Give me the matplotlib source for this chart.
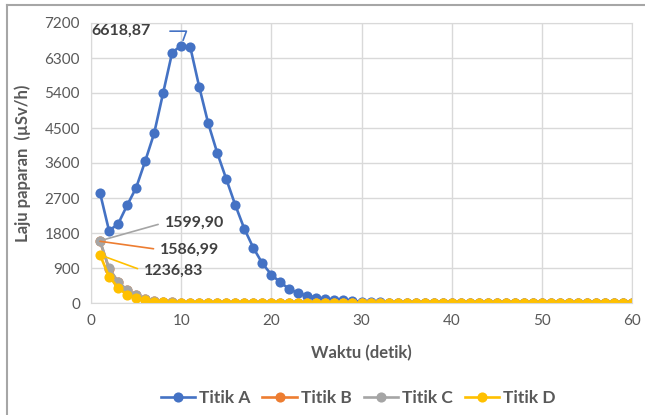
import matplotlib
matplotlib.use("Agg")
import matplotlib.pyplot as plt
from matplotlib.lines import Line2D

plt.rcParams['font.family'] = ['Lato', 'DejaVu Sans']

# waktu dalam detik, 1..60
waktu = list(range(1, 61))

titik_a = [2830, 1860, 2030, 2510, 2960, 3640, 4360, 5400, 6440, 6618.87,
           6590, 5560, 4620, 3860, 3190, 2520, 1910, 1420, 1020, 730,
           530, 360, 250, 190, 140, 110, 85, 65, 50, 35,
           25, 18, 12, 8, 5, 3, 2, 1, 1, 0,
           0, 0, 0, 0, 0, 0, 0, 0, 0, 0,
           0, 0, 0, 0, 0, 0, 0, 0, 0, 0]
titik_b = [1586.99, 880, 540, 325, 195, 105, 55, 28, 14, 7,
           3, 2, 1, 0, 0, 0, 0, 0, 0, 0,
           0, 0, 0, 0, 0, 0, 0, 0, 0, 0,
           0, 0, 0, 0, 0, 0, 0, 0, 0, 0,
           0, 0, 0, 0, 0, 0, 0, 0, 0, 0,
           0, 0, 0, 0, 0, 0, 0, 0, 0, 0]
titik_c = [1599.90, 895, 550, 335, 200, 110, 60, 30, 15, 8,
           4, 2, 1, 0, 0, 0, 0, 0, 0, 0,
           0, 0, 0, 0, 0, 0, 0, 0, 0, 0,
           0, 0, 0, 0, 0, 0, 0, 0, 0, 0,
           0, 0, 0, 0, 0, 0, 0, 0, 0, 0,
           0, 0, 0, 0, 0, 0, 0, 0, 0, 0]
titik_d = [1236.83, 680, 395, 206, 137, 77, 35, 15, 8, 4,
           2, 1, 0, 0, 0, 0, 0, 0, 0, 0,
           0, 0, 0, 0, 0, 0, 0, 0, 0, 0,
           0, 0, 0, 0, 0, 0, 0, 0, 0, 0,
           0, 0, 0, 0, 0, 0, 0, 0, 0, 0,
           0, 0, 0, 0, 0, 0, 0, 0, 0, 0]

nama = ['Titik A', 'Titik B', 'Titik C', 'Titik D']
warna = ['#4472C4', '#ED7D31', '#A5A5A5', '#FFC000']
teks = '#595959'

fig = plt.figure(figsize=(6.45, 4.15), dpi=100)
ax = fig.add_axes([91 / 645, 1 - 303 / 415, 541 / 645, 280 / 415])

for seri, nm, c in zip([titik_a, titik_b, titik_c, titik_d], nama, warna):
    ax.plot(waktu, seri, color=c, lw=1.9, marker='o', ms=7.3,
            markeredgewidth=0, label=nm)

ax.set_xlim(0, 60)
ax.set_ylim(0, 7200)
ax.set_xticks(range(0, 61, 10))
ax.set_yticks(range(0, 7201, 900))
ax.grid(True, color='#d9d9d9', lw=1)
ax.set_axisbelow(True)
for s in ax.spines.values():
    s.set_color('#d9d9d9')
ax.tick_params(length=0, labelsize=11, labelcolor=teks, pad=8)

ax.set_xlabel('Waktu (detik)', fontsize=12, fontweight='bold', color=teks,
              labelpad=12)
ax.set_ylabel('Laju paparan  (µSv/h)', fontsize=12, fontweight='bold',
              color=teks, labelpad=10)

# label nilai puncak dan nilai awal
ax.annotate(f'{titik_a[9]:.2f}'.replace('.', ','), xy=(waktu[9], titik_a[9]),
            xytext=(6.6, 6990), ha='right', va='center', fontsize=11.5,
            fontweight='bold', color='#404040',
            arrowprops=dict(arrowstyle='-', color=warna[0], lw=1.2,
                            shrinkA=12, shrinkB=4, relpos=(1, 0.5),
                            connectionstyle='angle,angleA=0,angleB=70,rad=0'))
for seri, c, pos in [(titik_c, warna[2], (8.2, 2070)),
                     (titik_b, warna[1], (7.7, 1370)),
                     (titik_d, warna[3], (5.9, 820))]:
    ax.annotate(f'{seri[0]:.2f}'.replace('.', ','), xy=(waktu[0], seri[0]),
                xytext=pos, ha='left', va='center', fontsize=11.5,
                fontweight='bold', color='#404040',
                arrowprops=dict(arrowstyle='-', color=c, lw=1.2,
                                shrinkA=3, shrinkB=0, relpos=(0, 0.5)))

fig.legend(loc='center', bbox_to_anchor=(358 / 645, 1 - 398 / 415), ncol=4,
           frameon=False, handlelength=2.0, columnspacing=0.7,
           handletextpad=0.2, labelcolor=teks,
           prop={'weight': 'bold', 'size': 12.5})

# bingkai luar
fig.add_artist(Line2D([7 / 645, 7 / 645], [0, 1 - 5 / 415],
                      transform=fig.transFigure, color='#a6a6a6', lw=1.5))
fig.add_artist(Line2D([7 / 645, 1], [1 - 5 / 415, 1 - 5 / 415],
                      transform=fig.transFigure, color='#a6a6a6', lw=1.5))

fig.savefig('out.png', dpi=100)
